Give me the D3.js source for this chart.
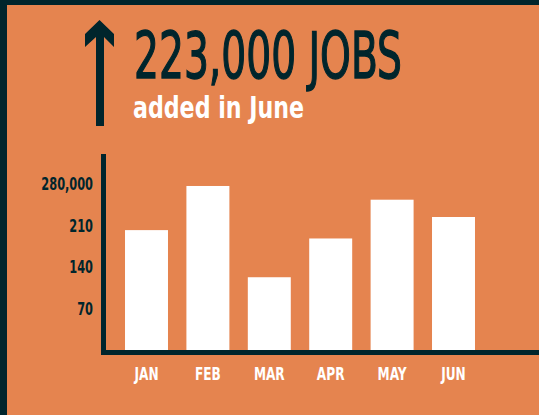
<!DOCTYPE html>
<html><head><meta charset="utf-8">
<script src="https://cdn.jsdelivr.net/npm/d3@7"></script>
<style>html,body{margin:0;padding:0;background:#E5844F;}svg{display:block;}</style>
</head><body>
<script>
const months = ["JAN","FEB","MAR","APR","MAY","JUN"];
const jobs = [201000, 275000, 122000, 187000, 252000, 223000];
const yTicks = [70000, 140000, 210000, 280000];
const yTickLabels = ["70", "140", "210", "280,000"];
const headline = "223,000 JOBS";
const subhead = "added in June";

const W = 539, H = 415;
const orange = "#E5844F", dark = "#00252C";
const font = "'DejaVu Sans Condensed','DejaVu Sans',sans-serif";

function condense(sel, f) {
  sel.each(function() {
    const w = this.getComputedTextLength();
    d3.select(this).attr("textLength", w * f).attr("lengthAdjust", "spacingAndGlyphs");
  });
}

const svg = d3.select("body").append("svg").attr("width", W).attr("height", H);
svg.append("rect").attr("width", W).attr("height", H).attr("fill", orange);
// frame
svg.append("rect").attr("x",0).attr("y",0).attr("width",W).attr("height",5).attr("fill",dark);
svg.append("rect").attr("x",0).attr("y",0).attr("width",7).attr("height",H).attr("fill",dark);

// arrow
svg.append("path").attr("fill", dark)
  .attr("d","M99.5,20 L114,34 L114,47 L104,37 L104,126 L96,126 L96,37 L85,47 L85,34 Z");

svg.append("text").attr("x",134).attr("y",78).text(headline)
  .attr("font-family",font).attr("font-weight","normal").attr("font-size",64)
  .attr("fill",dark).attr("textLength",268).attr("lengthAdjust","spacingAndGlyphs")
  .attr("stroke",dark).attr("stroke-width",1.4);
svg.append("text").attr("x",133).attr("y",118).text(subhead)
  .attr("font-family",font).attr("font-weight","bold").attr("font-size",31)
  .attr("fill","#fff").attr("textLength",171).attr("lengthAdjust","spacingAndGlyphs");

const x = d3.scaleBand().domain(months).range([115.8, 484.2]).paddingInner(0.3).paddingOuter(0.15);
const y = d3.scaleLinear().domain([0, 280000]).range([350, 183]);

svg.selectAll("rect.bar").data(months).join("rect").attr("class","bar")
  .attr("x", d => x(d)).attr("width", x.bandwidth())
  .attr("y", (d,i) => y(jobs[i])).attr("height", (d,i) => y(0) - y(jobs[i]))
  .attr("fill","#fff");

// axes lines
svg.append("rect").attr("x",101).attr("y",154).attr("width",5).attr("height",201).attr("fill",dark);
svg.append("rect").attr("x",101).attr("y",350).attr("width",W-101).attr("height",5).attr("fill",dark);

// y axis labels
const yAxis = d3.axisLeft(y).tickValues(yTicks).tickFormat((d,i) => yTickLabels[i]).tickSize(0).tickPadding(0);
const yg = svg.append("g").attr("transform","translate(93,0)").call(yAxis);
yg.select(".domain").remove();
yg.selectAll("text").attr("font-family",font).attr("font-weight","bold").attr("font-size",18)
  .attr("fill",dark).attr("dy","0.36em").call(condense, 0.7);

// x axis labels
const xAxis = d3.axisBottom(x).tickSize(0).tickPadding(0);
const xg = svg.append("g").attr("transform","translate(0,367)").call(xAxis);
xg.select(".domain").remove();
xg.selectAll("text").attr("font-family",font).attr("font-weight","bold").attr("font-size",18)
  .attr("fill","#fff").attr("dy","0.71em").call(condense, 0.75);
</script>
</body></html>
